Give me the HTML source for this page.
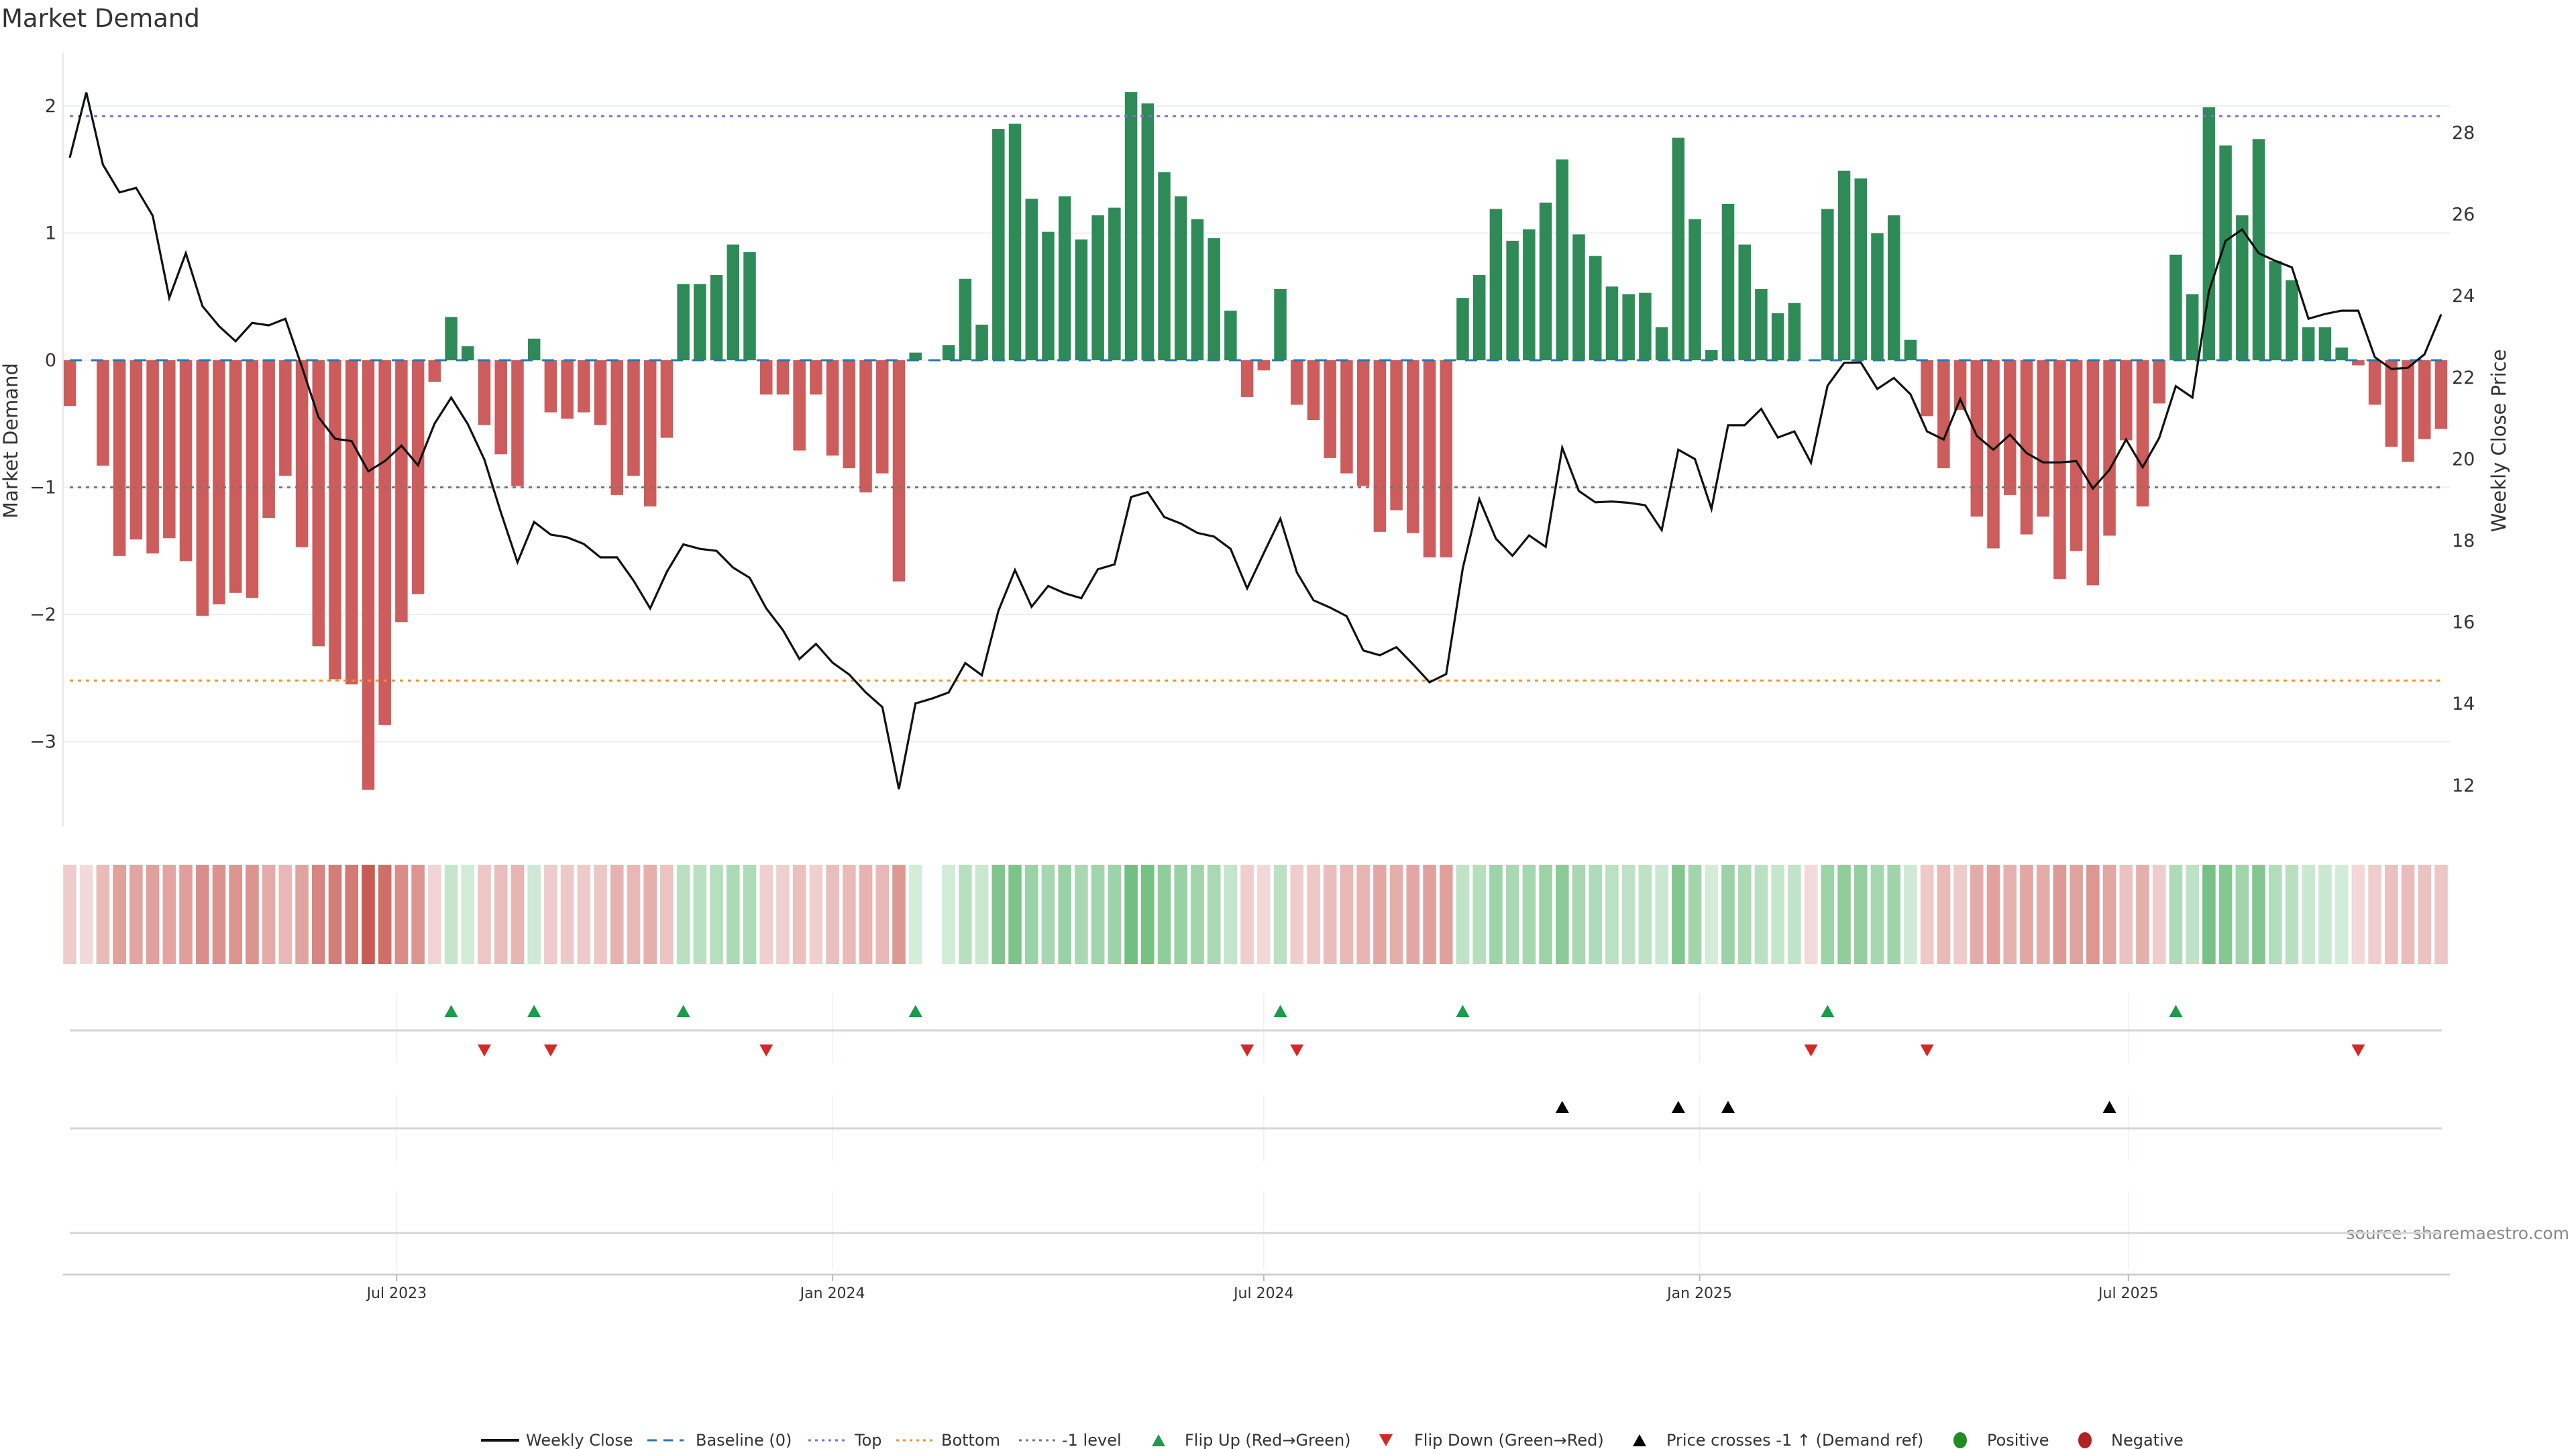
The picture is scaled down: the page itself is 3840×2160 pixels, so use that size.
<!DOCTYPE html>
<html><head><meta charset="utf-8"><style>
html,body{margin:0;padding:0;background:#fff;}
svg{display:block;font-family:"DejaVu Sans","Liberation Sans",sans-serif;}
</style></head>
<body>
<svg id="chart" width="3840" height="2160" viewBox="0 0 3840 2160" xmlns="http://www.w3.org/2000/svg">
<text x="2" y="40" font-size="37" fill="#333">Market Demand</text>
<text transform="translate(26,657) rotate(-90)" text-anchor="middle" font-size="29" fill="#333">Market Demand</text>
<text transform="translate(3735,657) rotate(-90)" text-anchor="middle" font-size="29" fill="#333">Weekly Close Price</text>
<text x="3830" y="1847" text-anchor="end" font-size="25" fill="#888">source: sharemaestro.com</text>
<g id="grid"></g>
<g id="heat"></g>
<g id="bars"></g>
<g id="refs"></g>
<g id="line"></g>
<g id="axes"></g>
<g id="marks"></g>
<g id="legend"></g>
</svg>
<script>
const demand = [-0.36,0,-0.83,-1.54,-1.41,-1.52,-1.40,-1.58,-2.01,-1.92,-1.83,-1.87,-1.24,-0.91,-1.47,-2.25,-2.51,-2.55,-3.38,-2.87,-2.06,-1.84,-0.17,0.34,0.11,-0.51,-0.74,-0.99,0.17,-0.41,-0.46,-0.41,-0.51,-1.06,-0.91,-1.15,-0.61,0.60,0.60,0.67,0.91,0.85,-0.27,-0.27,-0.71,-0.27,-0.75,-0.85,-1.04,-0.89,-1.74,0.06,null,0.12,
0.64,0.28,1.82,1.86,1.27,1.01,1.29,0.95,1.14,1.20,2.11,2.02,1.48,1.29,1.11,0.96,0.39,-0.29,-0.08,0.56,-0.35,-0.47,-0.77,-0.89,-0.99,-1.35,-1.18,-1.36,-1.55,-1.55,
0.49,0.67,1.19,0.94,1.03,1.24,1.58,0.99,0.82,0.58,
0.52,0.53,0.26,1.75,1.11,0.08,1.23,0.91,0.56,0.37,0.45,0,1.19,1.49,1.43,1.00,1.14,0.16,-0.44,-0.85,-0.39,-1.23,-1.48,-1.06,-1.37,-1.23,-1.72,-1.50,-1.77,-1.38,-0.63,-1.15,-0.34,0.83,0.52,1.99,1.69,1.14,1.74,0.78,0.63,0.26,0.26,0.10,-0.04,-0.35,-0.68,-0.80,-0.62,-0.54];
const closePrice = [27.39,28.99,27.22,26.54,26.65,25.97,23.95,25.05,23.75,23.26,22.89,23.34,23.28,23.44,22.26,21.03,20.50,20.44,19.70,19.95,20.33,19.85,20.87,21.51,20.86,19.99,18.69,17.47,18.46,18.15,18.08,17.92,17.59,17.59,17.02,16.34,17.23,17.91,17.80,17.75,17.34,17.09,16.34,15.81,15.10,15.47,15.01,14.72,14.28,13.92,11.91,14.01,14.13,14.28,
15.00,14.70,16.28,17.28,16.38,16.89,16.71,16.59,17.30,17.42,19.07,19.19,18.58,18.42,18.19,18.10,17.80,16.83,17.69,18.54,17.22,16.54,16.36,16.15,15.31,15.19,15.39,14.97,14.53,14.73,17.32,19.02,18.05,17.63,18.13,17.85,20.28,19.22,18.94,18.96,
18.93,18.87,18.26,20.23,20.00,18.78,20.83,20.83,21.23,20.53,20.68,19.91,21.80,22.36,22.37,21.72,21.99,21.59,20.68,20.48,21.47,20.57,20.23,20.60,20.15,19.92,19.92,19.95,19.28,19.74,20.48,19.80,20.52,21.79,21.51,24.12,25.35,25.63,25.05,24.86,24.70,23.44,23.56,23.64,23.64,22.50,22.21,22.24,22.57,23.55];
const flipUpIdx = [23,28,37,51,73,84,106,127];
const flipDownIdx = [25,29,42,71,74,105,112,138];
const crossIdx = [90,97,100,123];
const leftTicks = [2,1,0,-1,-2,-3];
const rightTicks = [12,14,16,18,20,22,24,26,28];
const dateTicks = ["2023-07-01","2024-01-01","2024-07-01","2025-01-01","2025-07-01"];
const dateTickLabels = ["Jul 2023","Jan 2024","Jul 2024","Jan 2025","Jul 2025"];
const startDate = "2023-02-13";
const topLevel = 1.92, bottomLevel = -2.52, minusOneLevel = -1;

const NS="http://www.w3.org/2000/svg";
function mk(parent, tag, attrs){const e=document.createElementNS(NS,tag);for(const k in attrs)e.setAttribute(k,attrs[k]);parent.appendChild(e);return e;}
const X0=104, STEP=24.72, PL=94, PR=3652, PT=79, PB=1232;
const xi = i => X0 + i*STEP;
const xDate = s => X0 + ((new Date(s+"T00:00:00Z") - new Date(startDate+"T00:00:00Z"))/86400000)/7*STEP;
const yL = v => 537 - v*189.5;
const yR = p => 198 + (28-p)*60.8;

const grid=document.getElementById('grid');
leftTicks.forEach(t=>{
  const l=mk(grid,'line',{x1:PL,x2:PR,y1:yL(t),y2:yL(t),stroke:'#eceef2','stroke-width':2});
  
  
});
// vertical gridlines in lower panels
dateTicks.forEach(d=>{
  const x=xDate(d);
  [[1480,1585],[1633,1732],[1776,1893]].forEach(r=>{
    const l=mk(grid,'line',{x1:x,x2:x,y1:r[0],y2:r[1],stroke:'#eef0f3','stroke-width':1.5});
    
    
  });
});
[1536,1682,1838].forEach(y=>{
  const l=mk(grid,'line',{x1:104,x2:3640,y1:y,y2:y,stroke:'#d6d6d6','stroke-width':3});
  
  
});

function mix(a,b,t){const pa=[parseInt(a.slice(1,3),16),parseInt(a.slice(3,5),16),parseInt(a.slice(5,7),16)],pb=[parseInt(b.slice(1,3),16),parseInt(b.slice(3,5),16),parseInt(b.slice(5,7),16)];return 'rgb('+pa.map((v,k)=>Math.round(v+(pb[k]-v)*t)).join(',')+')';}
const heat=document.getElementById('heat');
const bars=document.getElementById('bars');
const BW=18.5;
demand.forEach((v,i)=>{
  if(v===null) return;
  let col;
  if(v>0) col=mix('#d6eedb','#72bf81',Math.min(v/2.1,1));
  else col=mix('#f3dada','#c95a52',Math.min(-v/3.4,1));
  const c=mk(heat,'rect',{x:xi(i)-9.8,y:1289,width:19.6,height:148,fill:col});
  
  
  if(v!==0){
    const y0=yL(0), y1=yL(v);
    const b=mk(bars,'rect',{x:xi(i)-BW/2,y:Math.min(y0,y1),width:BW,height:Math.abs(y1-y0),fill:v>0?'#2e8b57':'#cd5c5c'});
    
    
  }
});

const refs=document.getElementById('refs');
[[topLevel,'#7b6fd6','5,7','top-level-line'],[minusOneLevel,'#777','5,7','minus-one-level-line'],[bottomLevel,'#f0902a','5,7','bottom-level-line'],[0,'#2a76b0','18,14','baseline-zero-line']].forEach(r=>{
  const l=mk(refs,'line',{x1:104,x2:3640,y1:yL(r[0]),y2:yL(r[0]),stroke:r[1],'stroke-width':r[0]===0?3:3,'stroke-dasharray':r[2]});
  
  
});

const lineG=document.getElementById('line');
const pl=mk(lineG,'polyline',{points:closePrice.map((p,i)=>xi(i).toFixed(1)+','+yR(p).toFixed(1)).join(' '),fill:'none',stroke:'#111','stroke-width':3.2,'stroke-linejoin':'miter'});



const axes=document.getElementById('axes');
const al=mk(axes,'line',{x1:PL,x2:PL,y1:PT,y2:PB,stroke:'#e6e6e6','stroke-width':2});


leftTicks.forEach(t=>{
  const tx=mk(axes,'text',{x:84,y:yL(t)+9,'text-anchor':'end','font-size':27,fill:'#333'});
  tx.textContent=t<0?'\u2212'+Math.abs(t):String(t);
  
  
});
rightTicks.forEach(t=>{
  const tx=mk(axes,'text',{x:3655,y:yR(t)+9,'font-size':27,fill:'#333'});
  tx.textContent=String(t);
  
  
});
const xa=mk(axes,'line',{x1:PL,x2:PR,y1:1900,y2:1900,stroke:'#d0d0d0','stroke-width':3});


dateTicks.forEach((d,k)=>{
  const x=xDate(d);
  const tk=mk(axes,'line',{x1:x,x2:x,y1:1900,y2:1910,stroke:'#bbb','stroke-width':2});
  
  
  const tx=mk(axes,'text',{x:x,y:1935,'text-anchor':'middle','font-size':22,fill:'#333'});
  tx.textContent=dateTickLabels[k];
  
  
});

const marks=document.getElementById('marks');
function tri(cx,cy,up,col){return mk(marks,'polygon',{points:up?`${cx-10},${cy+9} ${cx+10},${cy+9} ${cx},${cy-9}`:`${cx-10},${cy-9} ${cx+10},${cy-9} ${cx},${cy+9}`,fill:col});}
flipUpIdx.forEach(i=>{const t=tri(xi(i),1507,true,'#1a9c4a');
  
  });
flipDownIdx.forEach(i=>{const t=tri(xi(i),1566,false,'#d62728');
  
  });
crossIdx.forEach(i=>{const t=tri(xi(i),1650,true,'#000');
  
  });
</script>
<svg style="position:absolute;left:0;top:0" width="3840" height="2160">
<g font-family="DejaVu Sans, Liberation Sans, sans-serif" font-size="24" fill="#333">
 <g><line x1="717" x2="774" y1="2147" y2="2147" stroke="#111" stroke-width="4"/><text x="784" y="2155">Weekly Close</text></g>
 <g><line x1="965" x2="1019" y1="2147" y2="2147" stroke="#2a76b0" stroke-width="3" stroke-dasharray="14,10"/><text x="1037" y="2155">Baseline (0)</text></g>
 <g><line x1="1205" x2="1259" y1="2147" y2="2147" stroke="#7b6fd6" stroke-width="3" stroke-dasharray="4,6"/><text x="1274" y="2155">Top</text></g>
 <g><line x1="1336" x2="1390" y1="2147" y2="2147" stroke="#f0902a" stroke-width="3" stroke-dasharray="4,6"/><text x="1403" y="2155">Bottom</text></g>
 <g><line x1="1519" x2="1573" y1="2147" y2="2147" stroke="#777" stroke-width="3" stroke-dasharray="4,6"/><text x="1583" y="2155">-1 level</text></g>
 <g><polygon points="1717,2156 1737,2156 1727,2138" fill="#1a9c4a"/><text x="1766" y="2155">Flip Up (Red→Green)</text></g>
 <g><polygon points="2056,2138 2076,2138 2066,2156" fill="#d62728"/><text x="2108" y="2155">Flip Down (Green→Red)</text></g>
 <g><polygon points="2434,2156 2454,2156 2444,2138" fill="#000"/><text x="2484" y="2155">Price crosses -1 ↑ (Demand ref)</text></g>
 <g><ellipse cx="2922" cy="2147" rx="10" ry="12" fill="#228b22"/><text x="2962" y="2155">Positive</text></g>
 <g><ellipse cx="3108" cy="2147" rx="10" ry="12" fill="#b22222"/><text x="3147" y="2155">Negative</text></g>
</g>
</svg>
</body></html>
